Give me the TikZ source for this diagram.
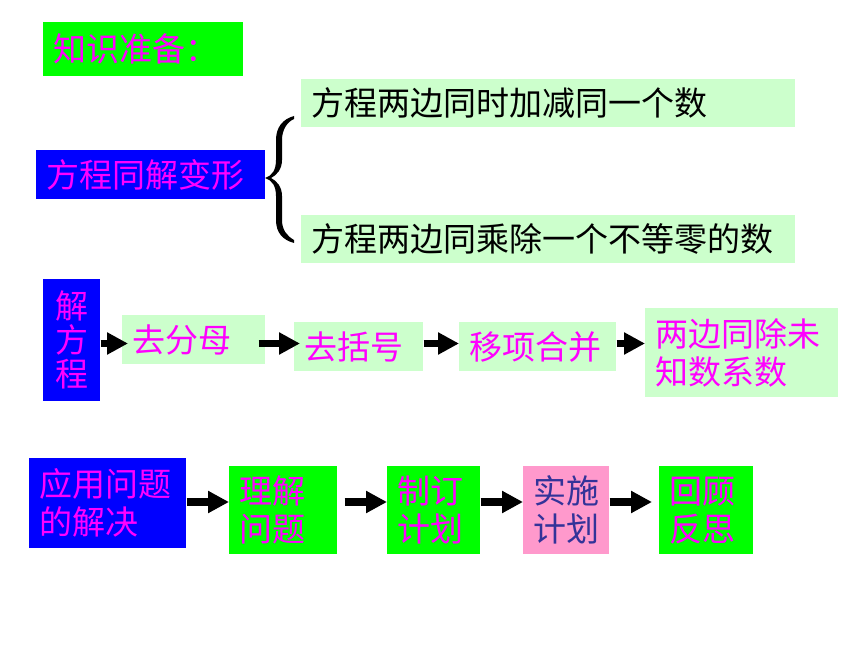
\documentclass[tikz,border=0pt]{standalone}
\usepackage{fontspec}
\setmainfont{Noto Sans CJK SC}
\usetikzlibrary{arrows.meta}
\definecolor{lime}{HTML}{00FF00}
\definecolor{pale}{HTML}{CCFFCC}
\definecolor{deepblue}{HTML}{0000FF}
\definecolor{mag}{HTML}{FF00FF}
\definecolor{rose}{HTML}{FF99CC}
\definecolor{ink}{HTML}{333399}
\tikzset{
	box/.style={anchor=north west,inner xsep=7.5pt,inner ysep=0pt,align=left,text=mag,
		font=\fontsize{24.75pt}{28.5pt}\selectfont},
	bigarrow/.style={line width=5.5pt,-{Triangle[length=15.75pt,width=15.75pt]}}
}
\begin{document}
\begin{tikzpicture}[x=0.75pt,y=-0.75pt]
				\useasboundingbox (0,0) rectangle (860,645);
				\node[box,fill=lime,text width=135pt,minimum height=40.5pt] (zhishi) at (43,22) {知识准备：};
				\node[box,fill=deepblue,text width=156.75pt,minimum height=36.75pt] (tongjie) at (36,150) {方程同解变形};
				\node[box,fill=pale,text=black,text width=355.5pt,minimum height=36pt] (jiajian) at (301,79) {方程两边同时加减同一个数};
				\node[box,fill=pale,text=black,text width=355.5pt,minimum height=36pt] (chengchu) at (301,215) {方程两边同乘除一个不等零的数};
				\fill (294,116) .. controls (283,119) and (276,127) .. (276,140) to (276,160)
					.. controls (276,170) and (272,176) .. (265,178)
					.. controls (272,180) and (276,186) .. (276,196) to (276,220)
					.. controls (276,233) and (283,240) .. (294,243)
					to (294,240) .. controls (287,236) and (282,230) .. (282,220) to (282,196)
					.. controls (282,187) and (277,181) .. (271,178)
					.. controls (277,175) and (282,169) .. (282,160) to (282,140)
					.. controls (282,130) and (287,122) .. (294,119) to cycle;
				\node[box,fill=deepblue,align=center,text width=27.75pt,minimum height=91.5pt,
					font=\fontsize{24.75pt}{25.5pt}\selectfont] (jie) at (43,279) {解\\方\\程};
				\node[box,fill=pale,text width=92.25pt,minimum height=36.75pt] (fenmu) at (122,315) {去分母};
				\node[box,fill=pale,text width=81.75pt,minimum height=36.75pt] (kuohao) at (294,322) {去括号};
				\node[box,fill=pale,text width=102.75pt,minimum height=36.75pt] (yixiang) at (459,322) {移项合并};
				\node[box,fill=pale,text width=129.75pt,minimum height=66.75pt] (chuxi) at (645,308) {两边同除未\\知数系数};
				\coordinate (r2) at (0,343.5);
				\draw[bigarrow,shorten >=-4.5pt] (jie.east |- r2) to (fenmu.west |- r2);
				\draw[bigarrow,shorten <=-5.25pt,shorten >=-4.5pt] (fenmu.east |- r2) to (kuohao.west |- r2);
				\draw[bigarrow] (kuohao.east |- r2) to (yixiang.west |- r2);
				\draw[bigarrow] (yixiang.east |- r2) to (chuxi.west |- r2);
				\node[box,fill=deepblue,text width=102.75pt,minimum height=67.5pt] (yingyong) at (29,458) {应用问题\\的解决};
				\node[box,fill=lime,text width=66pt,minimum height=66pt] (lijie) at (229,466) {理解\\问题};
				\node[box,fill=lime,text width=54.75pt,minimum height=66pt] (zhiding) at (387,466) {制订\\计划};
				\node[box,fill=rose,text=ink,text width=49.5pt,minimum height=66pt] (shishi) at (523,466) {实施\\计划};
				\node[box,fill=lime,text width=55.5pt,minimum height=66pt] (huigu) at (659,466) {回顾\\反思};
				\coordinate (r3) at (0,502);
				\draw[bigarrow] (yingyong.east |- r3) to (lijie.west |- r3);
				\draw[bigarrow,shorten <=5.25pt] (lijie.east |- r3) to (zhiding.west |- r3);
				\draw[bigarrow] (zhiding.east |- r3) to (shishi.west |- r3);
				\draw[bigarrow,shorten >=5.25pt] (shishi.east |- r3) to (huigu.west |- r3);
			\end{tikzpicture}
\end{document}
